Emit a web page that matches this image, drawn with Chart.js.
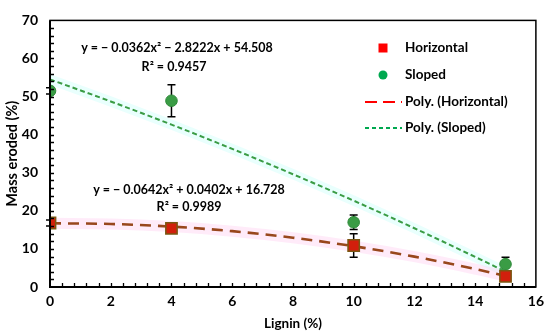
<!DOCTYPE html>
<html>
<head>
<meta charset="utf-8">
<script src="https://cdn.jsdelivr.net/npm/chart.js@4"></script>
<style>
  html, body { margin: 0; padding: 0; background: #fff; }
</style>
</head>
<body>
<canvas id="chart" width="550" height="335"></canvas>
<script>
// lignin content (%) of the four mixes
const lignin = [0, 4, 10, 15]
const horizontal = [16.8, 15.4, 10.9, 2.8]
const horizontalErr = [0.8, 0.8, 3.1, 0.8]
const sloped = [51.5, 48.9, 17.0, 6.0]
const slopedErr = [0.8, 4.2, 1.9, 1.8]

// trend lines
const trendX = [0, 2, 4, 6, 8, 10, 12, 14, 15]
const trendHorizontal = [16.73, 16.55, 15.86, 14.66, 12.94, 10.71, 7.97, 4.71, 2.89]
const trendSloped = [54.51, 48.72, 42.64, 36.27, 29.61, 22.67, 15.43, 7.90, 4.03]

const legendLabels = ['Horizontal', 'Sloped', 'Poly. (Horizontal)', 'Poly. (Sloped)']
const equationSloped = ['y = \u2212 0.0362x\u00b2 \u2212 2.8222x + 54.508', 'R\u00b2 = 0.9457']
const equationHorizontal = ['y = \u2212 0.0642x\u00b2 + 0.0402x + 16.728', 'R\u00b2 = 0.9989']

const FONT = 'Lato, "Open Sans", sans-serif'
const RED = '#d21f0c'
const GREEN = '#3a9c45'
const BROWN = '#98471c'

function pts (xs, ys) {
  return xs.map((x, i) => ({ x: x, y: ys[i] }))
}

const decor = {
  id: 'decor',
  beforeDatasetsDraw (chart) {
    const ctx = chart.ctx
    const xs = chart.scales.x
    const ys = chart.scales.y
    ctx.save()
    ctx.strokeStyle = '#000'
    ctx.lineWidth = 1.5
    const bars = [[horizontal, horizontalErr], [sloped, slopedErr]]
    bars.forEach(([vals, errs]) => {
      vals.forEach((v, i) => {
        const px = xs.getPixelForValue(lignin[i])
        const top = ys.getPixelForValue(v + errs[i])
        const bot = ys.getPixelForValue(v - errs[i])
        ctx.beginPath()
        ctx.moveTo(px, top); ctx.lineTo(px, bot)
        ctx.moveTo(px - 4, top); ctx.lineTo(px + 4, top)
        ctx.moveTo(px - 4, bot); ctx.lineTo(px + 4, bot)
        ctx.stroke()
      })
    })
    ctx.restore()
  },
  afterDraw (chart) {
    const ctx = chart.ctx
    const area = chart.chartArea
    const xs = chart.scales.x
    const ys = chart.scales.y
    ctx.save()

    // frame
    ctx.strokeStyle = '#000'
    ctx.lineWidth = 1.5
    ctx.strokeRect(area.left, area.top, area.right - area.left, area.bottom - area.top)
    ctx.lineWidth = 2
    ctx.beginPath()
    ctx.moveTo(area.left, area.top); ctx.lineTo(area.left, area.bottom); ctx.lineTo(area.right, area.bottom)
    ctx.stroke()

    // inward ticks
    ctx.lineWidth = 1.3
    ctx.beginPath()
    for (let v = 0.4; v < 16; v += 0.4) {
      const px = Math.round(xs.getPixelForValue(v)) + 0.5
      ctx.moveTo(px, area.bottom); ctx.lineTo(px, area.bottom - 4)
    }
    for (let v = 2; v < 70; v += 2) {
      const py = Math.round(ys.getPixelForValue(v)) + 0.5
      ctx.moveTo(area.left, py); ctx.lineTo(area.left + 4, py)
    }
    ctx.stroke()

    // equations
    ctx.fillStyle = '#000'
    ctx.font = 'bold 12.5px ' + FONT
    ctx.textAlign = 'center'
    ctx.textBaseline = 'middle'
    ctx.fillText(equationSloped[0], 177, 48)
    ctx.fillText(equationSloped[1], 174, 67)
    ctx.fillText(equationHorizontal[0], 189, 190)
    ctx.fillText(equationHorizontal[1], 189, 207)

    // legend
    const lx = 383
    const tx = 405
    const rows = [48, 75, 102, 128]
    ctx.fillStyle = '#ff0000'
    ctx.fillRect(lx - 4.5, rows[0] - 4.5, 9, 9)
    ctx.fillStyle = '#00a84f'
    ctx.beginPath(); ctx.arc(lx, rows[1], 4.5, 0, Math.PI * 2); ctx.fill()
    ctx.lineWidth = 2.2
    ctx.strokeStyle = '#ff0000'
    ctx.setLineDash([12, 6])
    ctx.beginPath(); ctx.moveTo(365, rows[2]); ctx.lineTo(402, rows[2]); ctx.stroke()
    ctx.lineWidth = 1.8
    ctx.strokeStyle = '#00a84f'
    ctx.setLineDash([4, 3])
    ctx.beginPath(); ctx.moveTo(365, rows[3]); ctx.lineTo(402, rows[3]); ctx.stroke()
    ctx.setLineDash([])
    ctx.fillStyle = '#000'
    ctx.font = 'bold 13.5px ' + FONT
    ctx.textAlign = 'left'
    legendLabels.forEach((t, i) => ctx.fillText(t, tx, rows[i]))

    ctx.restore()
  }
}

const context = document.getElementById('chart').getContext('2d')
const chart = new Chart(context, {
  type: 'scatter',
  data: {
    datasets: [
      {
        label: legendLabels[0],
        data: pts(lignin, horizontal),
        pointStyle: 'rect',
        pointRadius: 8,
        backgroundColor: RED,
        borderColor: '#7a5712',
        borderWidth: 1.5,
        order: 0
      },
      {
        label: legendLabels[1],
        data: pts(lignin, sloped),
        pointStyle: 'circle',
        pointRadius: 5.8,
        backgroundColor: GREEN,
        borderColor: '#2f8a3a',
        borderWidth: 1,
        order: 0
      },
      {
        label: legendLabels[2],
        data: pts(trendX, trendHorizontal),
        showLine: true,
        pointRadius: 0,
        borderColor: BROWN,
        borderWidth: 2.6,
        borderDash: [11, 7],
        cubicInterpolationMode: 'monotone',
        order: 1
      },
      {
        label: legendLabels[3],
        data: pts(trendX, trendSloped),
        showLine: true,
        pointRadius: 0,
        borderColor: GREEN,
        borderWidth: 2,
        borderDash: [5, 3],
        cubicInterpolationMode: 'monotone',
        order: 1
      },
      {
        label: 'glow h',
        data: pts(trendX, trendHorizontal),
        showLine: true,
        pointRadius: 0,
        borderColor: 'rgba(255, 205, 240, 0.4)',
        borderWidth: 11,
        cubicInterpolationMode: 'monotone',
        order: 2
      },
      {
        label: 'glow s',
        data: pts(trendX, trendSloped),
        showLine: true,
        pointRadius: 0,
        borderColor: 'rgba(200, 255, 250, 0.4)',
        borderWidth: 10,
        cubicInterpolationMode: 'monotone',
        order: 2
      }
    ]
  },
  plugins: [decor],
  options: {
    responsive: false,
    animation: false,
    devicePixelRatio: 1,
    layout: { padding: { top: 8, right: 12, left: 0, bottom: 0 } },
    plugins: {
      legend: { display: false },
      tooltip: { enabled: false }
    },
    scales: {
      x: {
        type: 'linear',
        min: 0,
        max: 16,
        ticks: { stepSize: 2, color: '#000', padding: 6, font: { family: FONT, size: 14, weight: 'bold' } },
        grid: { display: false, drawTicks: false },
        border: { display: false },
        title: { display: true, text: 'Lignin (%)', color: '#000', padding: { top: 0, bottom: 3 }, font: { family: FONT, size: 13.5, weight: 'bold' } },
        afterFit (scale) { scale.height = 48 }
      },
      y: {
        type: 'linear',
        min: 0,
        max: 70,
        ticks: { stepSize: 10, color: '#000', padding: 12, font: { family: FONT, size: 14, weight: 'bold' } },
        grid: { display: false, drawTicks: false },
        border: { display: false },
        title: { display: true, text: 'Mass eroded (%)', color: '#000', padding: { top: 4, bottom: 0 }, font: { family: FONT, size: 14.5, weight: 'bold' } },
        afterFit (scale) { scale.width = 50 }
      }
    }
  }
})
</script>
</body>
</html>
